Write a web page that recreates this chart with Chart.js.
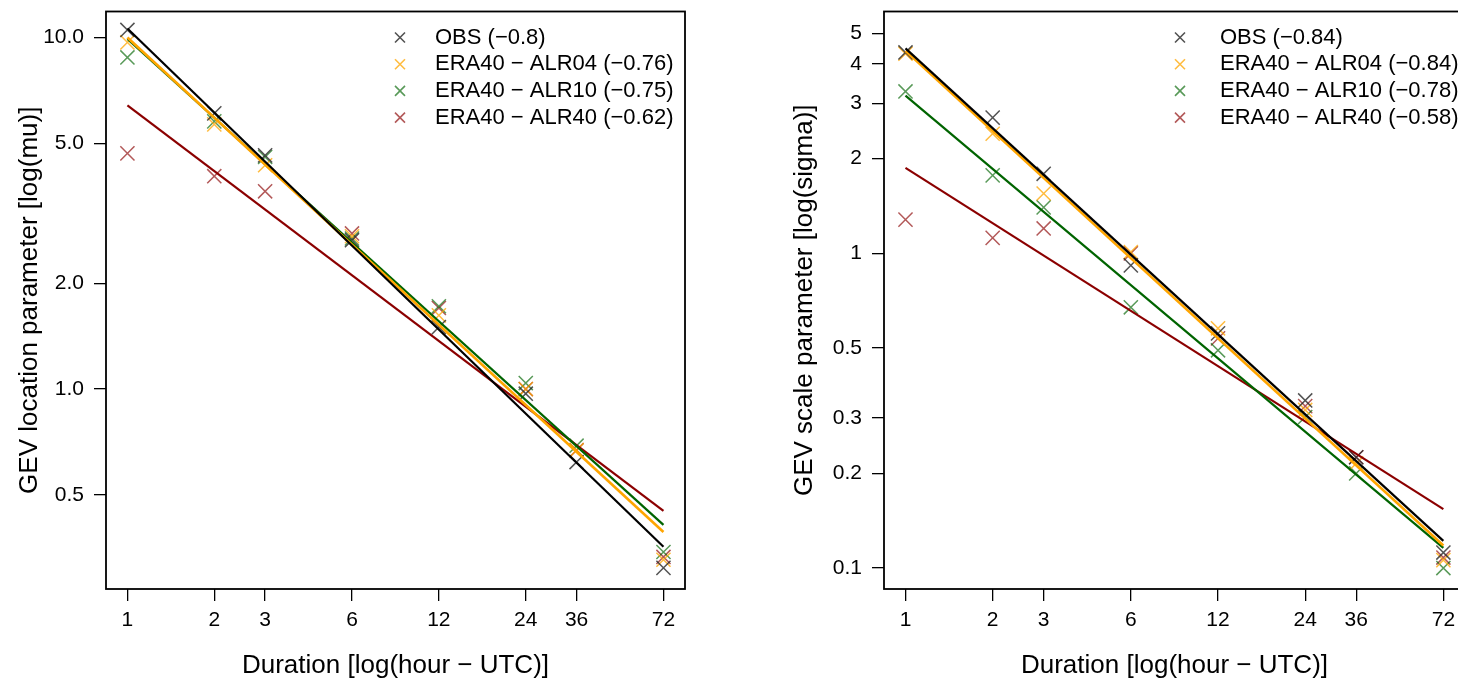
<!DOCTYPE html>
<html>
<head>
<meta charset="utf-8">
<script src="https://cdn.jsdelivr.net/npm/chart.js@4/dist/chart.umd.min.js"></script>
<style>
  html, body { margin:0; padding:0; background:#fff; overflow:hidden; width:1458px; height:681px; }
  .panel { position:absolute; top:0; height:681px; }
  #left { left:0; width:729px; }
  #right { left:729px; width:760px; }
</style>
</head>
<body>
<div class="panel" id="left"><canvas id="muChart"></canvas></div>
<div class="panel" id="right"><canvas id="sigmaChart"></canvas></div>
<script>
// durations (hours) and axis ticks
const durations = [1, 2, 3, 6, 12, 24, 36, 72];
const xTicks = [1, 2, 3, 6, 12, 24, 36, 72];
const seriesNames = ["OBS", "ERA40 \u2212 ALR04", "ERA40 \u2212 ALR10", "ERA40 \u2212 ALR40"];

// GEV location (mu)
const muObs   = [10.5, 6.08, 4.62, 2.65, 1.50, 0.97, 0.62, 0.31];
const muAlr04 = [9.68, 5.66, 4.33, 2.72, 1.62, 1.00, 0.67, 0.327];
const muAlr10 = [8.77, 5.77, 4.57, 2.68, 1.72, 1.04, 0.69, 0.344];
const muAlr40 = [4.68, 4.03, 3.65, 2.77, 1.70, 1.00, 0.67, 0.333];
const muSlopes = ["\u22120.8", "\u22120.76", "\u22120.75", "\u22120.62"];
const muFitAt1 = [10.6, 10.0, 9.9, 6.41];
const muFitAt72 = [0.356, 0.392, 0.411, 0.45];
const muTicks = [10, 5, 2, 1, 0.5];

// GEV scale (sigma)
const sigObs   = [4.35, 2.70, 1.79, 0.916, 0.557, 0.341, 0.225, 0.112];
const sigAlr04 = [4.31, 2.40, 1.55, 1.01, 0.578, 0.318, 0.215, 0.106];
const sigAlr10 = [3.27, 1.77, 1.40, 0.674, 0.492, 0.302, 0.20, 0.10];
const sigAlr40 = [1.28, 1.12, 1.20, 1.00, 0.537, 0.327, 0.225, 0.108];
const sigSlopes = ["\u22120.84", "\u22120.84", "\u22120.78", "\u22120.58"];
const sigFitAt1 = [4.48, 4.4, 3.17, 1.87];
const sigFitAt72 = [0.122, 0.118, 0.116, 0.154];
const sigTicks = [5, 4, 3, 2, 1, 0.5, 0.3, 0.2, 0.1];

const lineColors = ["#000000", "#FFA500", "#006400", "#8B0000"];
const markColors = ["rgba(40,40,40,0.8)", "rgba(255,165,0,0.75)", "rgba(0,100,0,0.65)", "rgba(139,0,0,0.65)"];

const FONT = "'Liberation Sans', Arial, sans-serif";

// box around plot area + R-like legend
const rStyle = {
  id: "rStyle",
  afterDraw(chart, args, opts) {
    const { ctx, chartArea: a } = chart;
    ctx.save();
    ctx.strokeStyle = "#000";
    ctx.lineWidth = 1.8;
    ctx.strokeRect(a.left, a.top, a.right - a.left, a.bottom - a.top);

    ctx.font = "22px " + FONT;
    ctx.textBaseline = "middle";
    ctx.textAlign = "left";
    chart.data.datasets.filter(d => d.type === "scatter").forEach((d, i) => {
      const y = opts.y + i * opts.dy;
      const r = 5;
      ctx.strokeStyle = d.borderColor;
      ctx.lineWidth = 1.6;
      ctx.beginPath();
      ctx.moveTo(opts.x - r, y - r); ctx.lineTo(opts.x + r, y + r);
      ctx.moveTo(opts.x - r, y + r); ctx.lineTo(opts.x + r, y - r);
      ctx.stroke();
      ctx.fillStyle = "#000";
      ctx.fillText(d.label, opts.x + opts.gap, y);
    });
    ctx.restore();
  }
};

function buildChart(canvasId, cfg) {
  const datasets = [];
  cfg.series.forEach((vals, i) => {
    datasets.push({
      type: "scatter",
      label: seriesNames[i] + " (" + cfg.slopes[i] + ")",
      data: durations.map((d, k) => ({ x: d, y: vals[k] })),
      pointStyle: "crossRot",
      pointRadius: 10,
      pointHoverRadius: 10,
      borderColor: markColors[i],
      backgroundColor: markColors[i],
      pointBorderWidth: 1.5,
      order: 2
    });
  });
  cfg.series.forEach((vals, i) => {
    datasets.push({
      type: "line",
      label: "fit " + i,
      data: [{ x: 1, y: cfg.fitAt1[i] }, { x: 72, y: cfg.fitAt72[i] }],
      borderColor: lineColors[i],
      borderWidth: i === 1 ? 2.6 : 2.2,
      pointRadius: 0,
      fill: false,
      order: 1
    });
  });

  return new Chart(document.getElementById(canvasId), {
    data: { datasets },
    options: {
      responsive: true,
      maintainAspectRatio: false,
      animation: false,
      events: [],
      layout: { padding: { top: 11, right: cfg.padRight, left: 0, bottom: 0 } },
      plugins: {
        legend: { display: false },
        tooltip: { enabled: false },
        rStyle: cfg.legend
      },
      scales: {
        x: {
          type: "logarithmic",
          min: 0.843,
          max: 85.5,
          afterBuildTicks: s => { s.ticks = xTicks.map(v => ({ value: v })); },
          afterFit: s => { s.height = 92; s.paddingLeft = 0; s.paddingRight = 0; },
          ticks: {
            autoSkip: false, maxRotation: 0, padding: 7, color: "#000",
            font: { family: FONT, size: 21 },
            callback: v => String(v)
          },
          grid: { drawOnChartArea: false, drawTicks: true, tickLength: 12, color: "#000", lineWidth: 1.3 },
          border: { display: false },
          title: {
            display: true, text: "Duration [log(hour \u2212 UTC)]", color: "#000",
            font: { family: FONT, size: 26 }, padding: { top: 0, bottom: 0 }
          }
        },
        y: {
          type: "logarithmic",
          min: cfg.yMin,
          max: cfg.yMax,
          afterBuildTicks: s => { s.ticks = cfg.yTicks.map(v => ({ value: v })); },
          afterFit: s => { s.width = cfg.yWidth; s.paddingTop = 0; s.paddingBottom = 0; },
          ticks: {
            autoSkip: false, padding: 10, color: "#000",
            font: { family: FONT, size: 21 },
            callback: cfg.yFormat
          },
          grid: { drawOnChartArea: false, drawTicks: true, tickLength: 12, color: "#000", lineWidth: 1.3 },
          border: { display: false },
          title: {
            display: true, text: cfg.yTitle, color: "#000",
            font: { family: FONT, size: 26 }, padding: { top: cfg.yTitlePad, bottom: 0 }
          }
        }
      }
    },
    plugins: [rStyle]
  });
}

buildChart("muChart", {
  series: [muObs, muAlr04, muAlr10, muAlr40],
  slopes: muSlopes,
  fitAt1: muFitAt1,
  fitAt72: muFitAt72,
  yTicks: muTicks,
  yMin: 0.270,
  yMax: 11.85,
  yWidth: 106,
  padRight: 44,
  yTitle: "GEV location parameter [log(mu)]",
  yTitlePad: 14,
  yFormat: v => Number(v).toFixed(1),
  legend: { x: 400, y: 37.5, dy: 26.7, gap: 35 }
});

buildChart("sigmaChart", {
  series: [sigObs, sigAlr04, sigAlr10, sigAlr40],
  slopes: sigSlopes,
  fitAt1: sigFitAt1,
  fitAt72: sigFitAt72,
  yTicks: sigTicks,
  yMin: 0.0858,
  yMax: 5.87,
  yWidth: 155,
  padRight: 24,
  yTitle: "GEV scale parameter [log(sigma)]",
  yTitlePad: 60,
  yFormat: v => String(v),
  legend: { x: 451, y: 37.5, dy: 26.7, gap: 40 }
});
</script>
</body>
</html>
